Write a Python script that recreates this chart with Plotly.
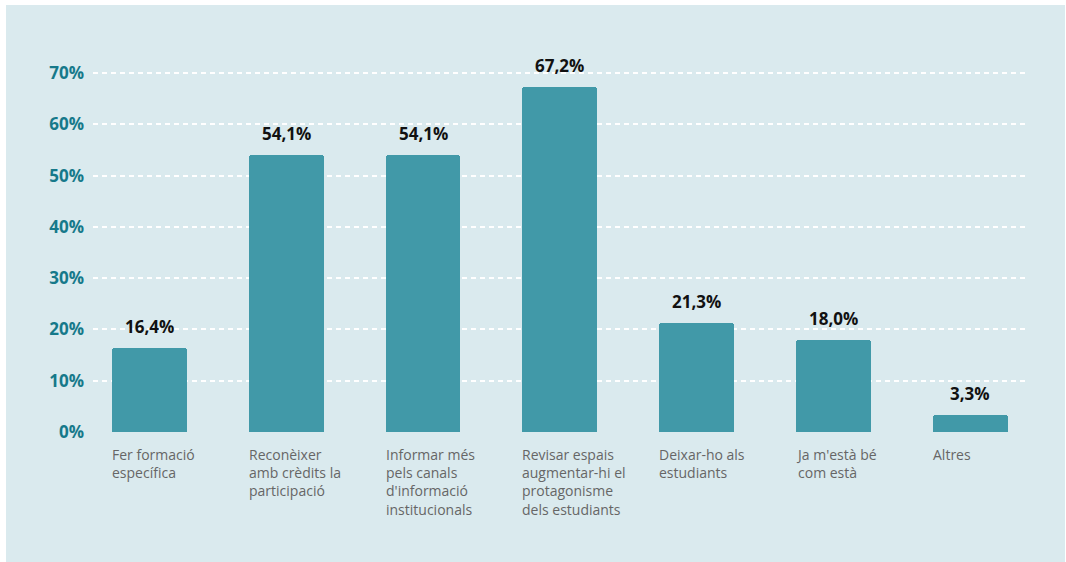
import plotly.graph_objects as go

categories = [
    "Fer formació<br>específica",
    "Reconèixer<br>amb crèdits la<br>participació",
    "Informar més<br>pels canals<br>d'informació<br>institucionals",
    "Revisar espais<br>augmentar-hi el<br>protagonisme<br>dels estudiants",
    "Deixar-ho als<br>estudiants",
    "Ja m'està bé<br>com està",
    "Altres",
]
values = [16.4, 54.1, 54.1, 67.2, 21.3, 18.0, 3.3]
tick_vals = [0, 10, 20, 30, 40, 50, 60, 70]
tick_text = [f"{v}%" for v in tick_vals]

BAR = "#4199a8"
PANEL = "#daeaee"
TEAL_TEXT = "#16798a"
GRAY_TEXT = "#666666"
BAR_WIDTH = 0.548
FONT = "Open Sans"

x_idx = list(range(len(categories)))

fig = go.Figure()
fig.add_trace(go.Bar(
    x=x_idx,
    y=values,
    width=BAR_WIDTH,
    marker=dict(color=BAR, line=dict(width=0), cornerradius=3),
    hoverinfo="skip",
))

# value labels above each bar
for i, v in zip(x_idx, values):
    fig.add_annotation(
        x=i, y=v, xref="x", yref="y",
        text=f"{v:.1f}%".replace(".", ","),
        showarrow=False, yanchor="bottom", yshift=8,
        font=dict(family=FONT, size=17, color="#111111", weight="bold"),
    )

# category labels, left-aligned under each bar
for i, c in zip(x_idx, categories):
    fig.add_annotation(
        x=i - BAR_WIDTH / 2, y=0, xref="x", yref="y",
        text=c, showarrow=False, xanchor="left", yanchor="top",
        align="left", yshift=-11, xshift=-2,
        font=dict(family=FONT, size=14, color=GRAY_TEXT),
    )

# light panel behind the chart
fig.add_shape(
    type="rect", xref="paper", yref="paper", layer="below",
    x0=-87 / 932, x1=(1065 - 93) / 932, y0=-130 / 400, y1=(557 - 130) / 400,
    fillcolor=PANEL, line=dict(width=0),
)

fig.update_layout(
    width=1066, height=562,
    margin=dict(l=93, r=41, t=32, b=130),
    paper_bgcolor="white",
    plot_bgcolor="rgba(0,0,0,0)",
    showlegend=False,
    bargap=0,
    xaxis=dict(
        range=[-0.413, 6.402], showticklabels=False, showgrid=False,
        zeroline=False, showline=False, fixedrange=True,
    ),
    yaxis=dict(
        range=[0, 78], tickvals=tick_vals, ticktext=tick_text,
        showgrid=True, gridcolor="white", gridwidth=1.5,
        griddash="5px,4px", zeroline=False, showline=False,
        ticks="", ticklabelstandoff=8,
        tickfont=dict(family=FONT, size=17, color=TEAL_TEXT, weight="bold"),
        fixedrange=True,
    ),
)

fig.write_html("out.html")
